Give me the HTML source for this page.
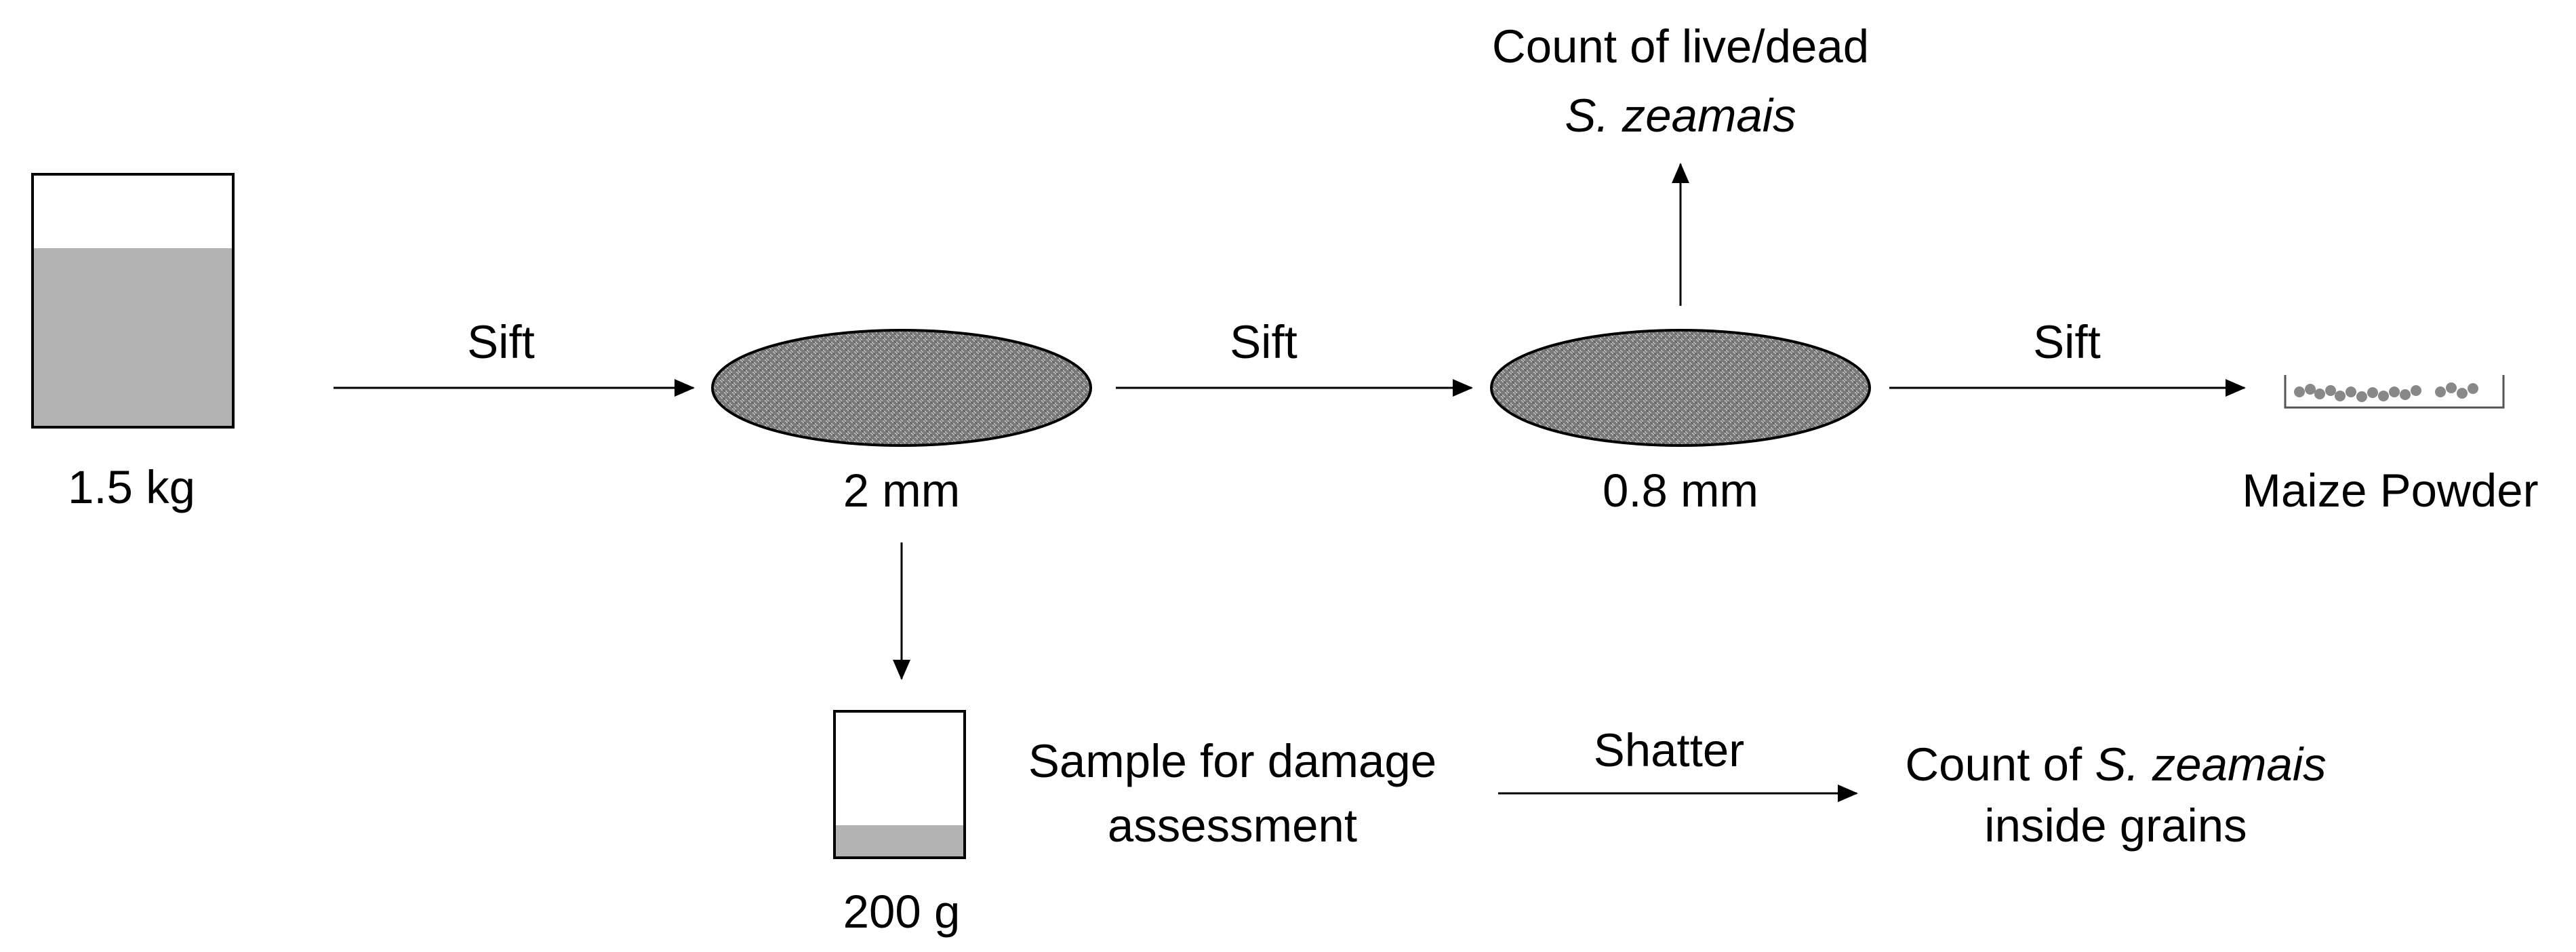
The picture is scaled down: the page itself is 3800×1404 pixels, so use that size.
<!DOCTYPE html>
<html><head><style>html,body{margin:0;padding:0;background:#fff;}svg{display:block}</style></head>
<body>
<svg width="3800" height="1404" viewBox="0 0 3800 1404" xmlns="http://www.w3.org/2000/svg" font-family="Liberation Sans, sans-serif" font-size="69" text-anchor="middle" fill="#000">
<defs>
<marker id="ah" markerWidth="30" markerHeight="26" refX="28" refY="13" orient="auto" markerUnits="userSpaceOnUse" viewBox="0 0 30 26"><path d="M0,0 L30,13 L0,26 z" fill="#000"/></marker>
<pattern id="mesh" width="12" height="12" patternUnits="userSpaceOnUse">
<rect width="12" height="12" fill="#7a7a7a"/>
<path d="M0,3 h6 M6,9 h6 M3,0 v6 M9,6 v6" stroke="#c0c0c0" stroke-width="2"/>
<path d="M0,0 L12,12" stroke="#555" stroke-width="1"/>
</pattern>
</defs>
<g stroke="#000" stroke-width="3">
<line x1="492" y1="572" x2="1023" y2="572" marker-end="url(#ah)"/>
<line x1="1646" y1="572" x2="2171" y2="572" marker-end="url(#ah)"/>
<line x1="2787" y1="572" x2="3311" y2="572" marker-end="url(#ah)"/>
<line x1="2479" y1="451" x2="2479" y2="242" marker-end="url(#ah)"/>
<line x1="1330" y1="800" x2="1330" y2="1001" marker-end="url(#ah)"/>
<line x1="2210" y1="1170" x2="2739" y2="1170" marker-end="url(#ah)"/>
</g>
<rect x="48" y="366" width="296" height="264" fill="#b3b3b3"/>
<rect x="48" y="257" width="296" height="373" fill="none" stroke="#000" stroke-width="4"/>
<rect x="1231" y="1217" width="192" height="48" fill="#b3b3b3"/>
<rect x="1231" y="1049" width="192" height="216" fill="none" stroke="#000" stroke-width="4"/>
<ellipse cx="1330" cy="572" rx="279" ry="85" fill="url(#mesh)" stroke="#000" stroke-width="4"/>
<ellipse cx="2479" cy="572" rx="279" ry="85" fill="url(#mesh)" stroke="#000" stroke-width="4"/>
<path d="M3371,553 V601 H3693 V553" fill="none" stroke="#555" stroke-width="3"/>
<g fill="#888">
<circle cx="3392" cy="578" r="8"/><circle cx="3408" cy="574" r="8"/><circle cx="3422" cy="581" r="8"/><circle cx="3438" cy="576" r="8"/><circle cx="3452" cy="584" r="8"/><circle cx="3468" cy="578" r="8"/><circle cx="3484" cy="585" r="8"/><circle cx="3500" cy="579" r="8"/><circle cx="3516" cy="584" r="8"/><circle cx="3532" cy="578" r="8"/><circle cx="3548" cy="582" r="8"/><circle cx="3564" cy="576" r="8"/><circle cx="3600" cy="578" r="8"/><circle cx="3616" cy="572" r="8"/><circle cx="3632" cy="580" r="8"/><circle cx="3648" cy="573" r="8"/>
</g>
<text x="739" y="528">Sift</text>
<text x="1864" y="528">Sift</text>
<text x="3049" y="528">Sift</text>
<text x="194" y="742">1.5 kg</text>
<text x="1330" y="747">2 mm</text>
<text x="2479" y="747">0.8 mm</text>
<text x="3526" y="747">Maize Powder</text>
<text x="2479" y="92">Count of live/dead</text>
<text x="2479" y="194" font-style="italic">S. zeamais</text>
<text x="1330" y="1368">200 g</text>
<text x="1818" y="1146">Sample for damage</text>
<text x="1818" y="1241">assessment</text>
<text x="2462" y="1130">Shatter</text>
<text x="3121" y="1151">Count of <tspan font-style="italic">S. zeamais</tspan></text>
<text x="3121" y="1241">inside grains</text>
</svg>
</body></html>
